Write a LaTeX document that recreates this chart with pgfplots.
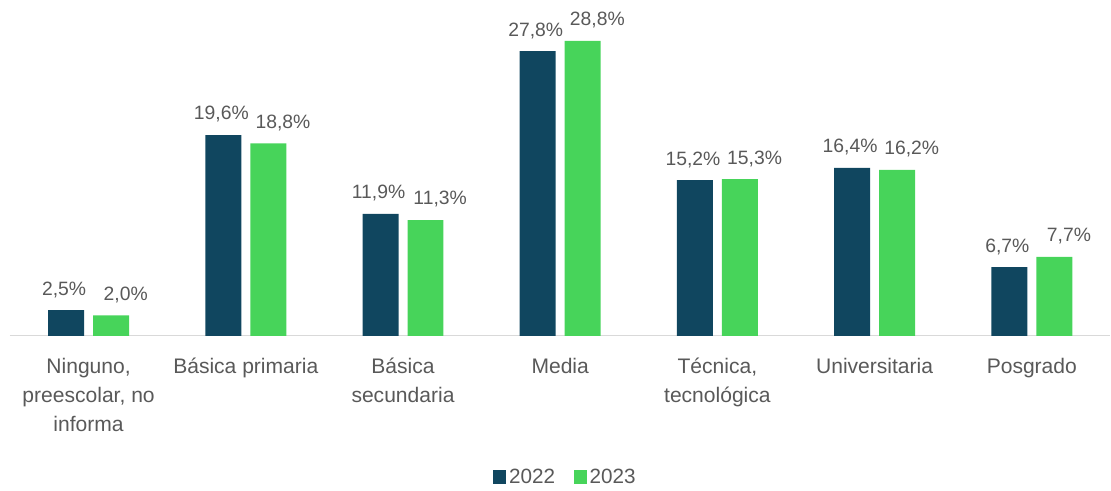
\documentclass[border=0pt]{standalone}
\usepackage{pgfplots}
\pgfplotsset{compat=1.18}
\usepackage{fontspec}
\setmainfont{Liberation Sans}
\definecolor{dark}{HTML}{10465F}
\definecolor{grn}{HTML}{47D45A}
\definecolor{txt}{HTML}{595959}
\definecolor{axl}{HTML}{D9D9D9}
\begin{document}
\begin{tikzpicture}[x=1pt,y=1pt]
\path (0,0) rectangle (833.25,366.75);
\begin{axis}[
  at={(7.5pt,114.75pt)}, anchor=south west,
  scale only axis, width=825.75pt, height=252pt,
  xmin=-0.5, xmax=6.5, ymin=0, ymax=32.8,
  axis y line=none, axis x line*=bottom,
  x axis line style={axl, line width=0.9pt, -},
  xtick={0,...,6}, xtick style={draw=none},
  xticklabels={{Ninguno,\\preescolar, no\\informa},{Básica primaria},{Básica\\secundaria},{Media},{Técnica,\\tecnológica},{Universitaria},{Posgrado}},
  xticklabel style={align=center, font=\fontsize{15.8}{21.75}\selectfont, text=txt, anchor=north, yshift=-9pt},
  ybar, bar width=27pt,
  clip=false,
  nodes near coords={\pgfmathprintnumber[fixed,fixed zerofill,precision=1,use comma]{\pgfplotspointmeta}\%},
  nodes near coords style={font=\fontsize{14.5}{17}\selectfont, text=txt, anchor=south, yshift=6pt},
  /pgf/number format/assume math mode=true,
  legend style={at={(0.505,-0.42)}, anchor=center, draw=none, legend columns=2, font=\fontsize{15.5}{18}\selectfont, text=txt, /tikz/every even column/.append style={column sep=12pt}},
  legend image code/.code={\fill[#1] (0pt,-5pt) rectangle (10pt,5pt);},
]
\addplot[fill=dark, draw=none, bar shift=-16.875pt, every node near coord/.append style={xshift=-1.5pt}] coordinates {(0,2.5) (1,19.6) (2,11.9) (3,27.8) (4,15.2) (5,16.4) (6,6.7)};
\addplot[fill=grn, draw=none, bar shift=16.875pt, every node near coord/.append style={xshift=11pt}] coordinates {(0,2.0) (1,18.8) (2,11.3) (3,28.8) (4,15.3) (5,16.2) (6,7.7)};
\legend{2022,2023}
\end{axis}
\end{tikzpicture}
\end{document}
